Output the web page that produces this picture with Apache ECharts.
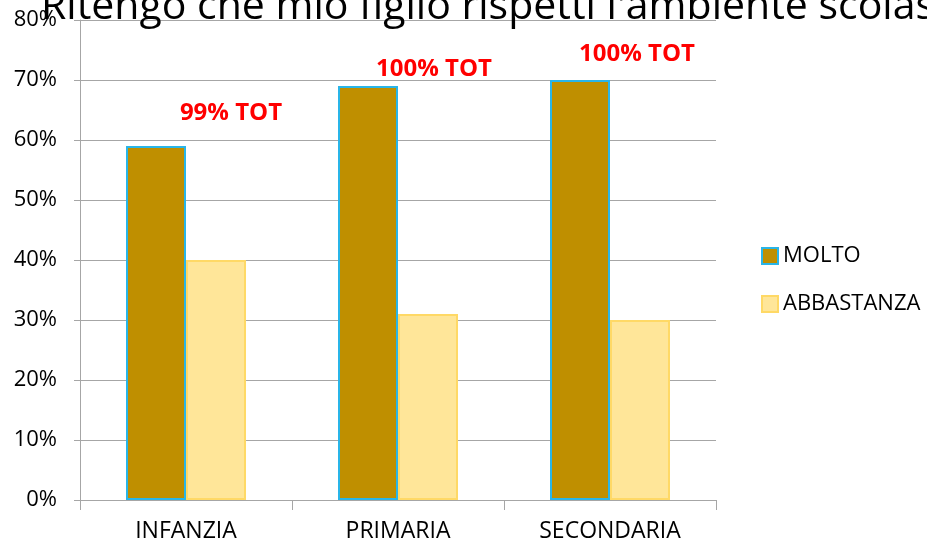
<!DOCTYPE html>
<html><head><meta charset="utf-8">
<script src="https://cdn.jsdelivr.net/npm/echarts@6/dist/echarts.min.js"></script>
<style>html,body{margin:0;padding:0;background:#fff}#c{width:927px;height:544px}</style>
</head><body><div id="c"></div>
<script>
const categories = ['INFANZIA', 'PRIMARIA', 'SECONDARIA'];
const molto = [59, 69, 70];
const abbastanza = [40, 31, 30];
const totLabels = ['99% TOT', '100% TOT', '100% TOT'];

const chart = echarts.init(document.getElementById('c'));
const font = '"Open Sans", sans-serif';
chart.setOption({
  animation: false,
  title: {
    text: "Ritengo che mio figlio rispetti l'ambiente scolastico",
    left: 36, top: -18,
    textStyle: { fontFamily: font, fontSize: 41, fontWeight: 'normal', color: '#000' }
  },
  grid: { left: 80, right: 211, top: 20, bottom: 44 },
  legend: {
    orient: 'vertical', left: 756, top: 240, itemGap: 26,
    itemWidth: 16, itemHeight: 16, icon: 'rect',
    textStyle: { fontFamily: font, fontSize: 22, color: '#000' },
    data: ['MOLTO', 'ABBASTANZA']
  },
  xAxis: {
    type: 'category', data: categories,
    axisLine: { lineStyle: { color: '#A6A6A6' } },
    axisTick: { show: true, length: 10, lineStyle: { color: '#A6A6A6' } },
    axisLabel: { fontFamily: font, fontSize: 23, color: '#000', margin: 20 }
  },
  yAxis: {
    type: 'value', min: 0, max: 80, interval: 10,
    axisLine: { show: true, lineStyle: { color: '#A6A6A6' } },
    axisTick: { show: true, length: 6, lineStyle: { color: '#A6A6A6' } },
    splitLine: { lineStyle: { color: '#A6A6A6' } },
    axisLabel: { fontFamily: font, fontSize: 22, color: '#000', margin: 23, formatter: v => v + '%' }
  },
  series: [
    { name: 'MOLTO', type: 'bar', data: molto, barGap: '0%', barCategoryGap: '43.4%',
      itemStyle: { color: '#BF8F00', borderColor: '#29B5E8', borderWidth: 2 } },
    { name: 'ABBASTANZA', type: 'bar', data: abbastanza,
      itemStyle: { color: '#FFE699', borderColor: '#FFD966', borderWidth: 2 } }
  ]
});
const totPos = [[231, 113], [434, 69], [637, 54]];
chart.setOption({
  graphic: totLabels.map((t, i) => ({
    type: 'text', x: totPos[i][0], y: totPos[i][1],
    style: { text: t, fill: '#FF0000', font: 'bold 24px ' + font, align: 'center', verticalAlign: 'middle' }
  }))
});
</script></body></html>
